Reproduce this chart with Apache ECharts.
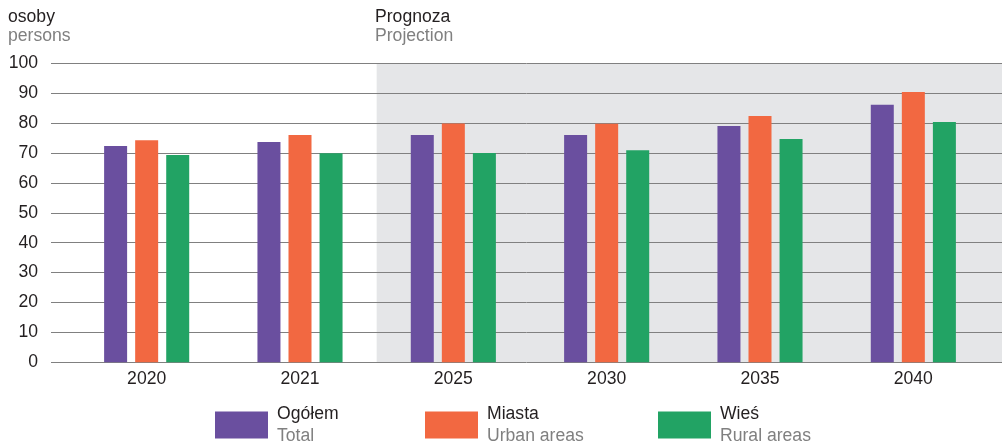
<!DOCTYPE html>
<html>
<head>
<meta charset="utf-8">
<script src="https://cdn.jsdelivr.net/npm/echarts@6/dist/echarts.min.js"></script>
<style>
html,body{margin:0;padding:0;background:#fff;}
#chart{width:1002px;height:444px;}
</style>
</head>
<body>
<div id="chart"></div>
<script>
const categories = ['2020', '2021', '2025', '2030', '2035', '2040'];
const total = [72.3, 73.7, 76.0, 76.0, 79.0, 86.1];
const urban = [74.3, 76.0, 79.9, 79.8, 82.4, 90.4];
const rural = [69.3, 69.9, 70.0, 70.9, 74.7, 80.4];
const yTicks = [0, 10, 20, 30, 40, 50, 60, 70, 80, 90, 100];
const seriesNames = [['Ogółem', 'Total'], ['Miasta', 'Urban areas'], ['Wieś', 'Rural areas']];
const projectionStart = '2025';

const FONT = '"Liberation Sans", Arial, sans-serif';
const FS = 17.6;
const DARK = '#231f20';
const GREY = '#808080';
const COLORS = ['#6a4f9f', '#f26841', '#22a364'];

const chart = echarts.init(document.getElementById('chart'), null, {renderer: 'canvas'});

function legendFor(i, left) {
  return {
    left: left, top: 405, orient: 'horizontal', padding: 0,
    itemWidth: 53, itemHeight: 27, itemGap: 0,
    icon: 'rect', selectedMode: false,
    data: [seriesNames[i][0]],
    formatter: function (n) {
      return '{a|' + seriesNames[i][0] + '}\n{b|' + seriesNames[i][1] + '}';
    },
    textStyle: {
      fontFamily: FONT, padding: [0, 0, 0, 4],
      rich: {
        a: {fontFamily: FONT, fontSize: FS, color: DARK, lineHeight: 22},
        b: {fontFamily: FONT, fontSize: FS, color: GREY, lineHeight: 22}
      }
    }
  };
}

function twoLineTitle(left, l1, l2) {
  return {
    left: left, top: 7, padding: 0,
    text: '{a|' + l1 + '}\n{b|' + l2 + '}',
    textStyle: {fontWeight: 'normal', rich: {
      a: {fontFamily: FONT, fontSize: FS, fontWeight: 'normal', color: DARK, lineHeight: 19.5},
      b: {fontFamily: FONT, fontSize: FS, fontWeight: 'normal', color: GREY, lineHeight: 19.5}
    }}
  };
}

const option = {
  animation: false,
  backgroundColor: '#ffffff',
  textStyle: {fontFamily: FONT},
  title: [
    twoLineTitle(8, 'osoby', 'persons'),
    twoLineTitle(375, 'Prognoza', 'Projection')
  ],
  legend: [legendFor(0, 215), legendFor(1, 425), legendFor(2, 658)],
  grid: [
    {left: 70, right: 12, top: 63.3, bottom: 81.7},
    {left: 51, right: 0, top: 63.3, bottom: 81.7}
  ],
  xAxis: [
    {
      type: 'category', gridIndex: 0, data: categories,
      axisLine: {show: false}, axisTick: {show: false},
      axisLabel: {fontFamily: FONT, fontSize: FS, color: DARK, margin: 8}
    },
    {
      type: 'value', gridIndex: 1, min: 0, max: 1, show: false
    }
  ],
  yAxis: [
    {
      type: 'value', gridIndex: 0, min: 0, max: 100, interval: 10,
      axisLabel: {show: false}, splitLine: {show: false},
      axisLine: {show: false}, axisTick: {show: false}
    },
    {
      type: 'value', gridIndex: 1, min: 0, max: 100, interval: 10,
      axisLine: {show: false}, axisTick: {show: false},
      axisLabel: {
        fontFamily: FONT, fontSize: FS, color: DARK, margin: 13,
        formatter: function (v) { return yTicks.indexOf(v) >= 0 ? String(v) : ''; }
      },
      splitLine: {lineStyle: {color: '#808080', width: 1}}
    }
  ],
  series: [
    {name: seriesNames[0][0], type: 'bar', xAxisIndex: 0, yAxisIndex: 0, data: total,
     barWidth: 23, barGap: '35%', itemStyle: {color: COLORS[0]}, z: 5},
    {name: seriesNames[1][0], type: 'bar', xAxisIndex: 0, yAxisIndex: 0, data: urban,
     barWidth: 23, barGap: '35%', itemStyle: {color: COLORS[1]}, z: 5},
    {name: seriesNames[2][0], type: 'bar', xAxisIndex: 0, yAxisIndex: 0, data: rural,
     barWidth: 23, barGap: '35%', itemStyle: {color: COLORS[2]}, z: 5}
  ]
};

chart.setOption(option);

// Projection shading: from the boundary between 2021 and 2025 to the right edge of the plot
const iStart = categories.indexOf(projectionStart);
const xa = chart.convertToPixel({xAxisIndex: 0}, iStart - 1);
const xb = chart.convertToPixel({xAxisIndex: 0}, iStart);
const x0 = (xa + xb) / 2;
const x1 = chart.convertToPixel({xAxisIndex: 1}, 1);
const yTop = chart.convertToPixel({yAxisIndex: 1}, 100);
const yBot = chart.convertToPixel({yAxisIndex: 1}, 0);
chart.setOption({
  graphic: [{
    type: 'rect', z: -10, silent: true,
    shape: {x: x0, y: yTop, width: x1 - x0, height: yBot - yTop},
    style: {fill: '#e5e6e8'}
  }]
});
</script>
</body>
</html>
